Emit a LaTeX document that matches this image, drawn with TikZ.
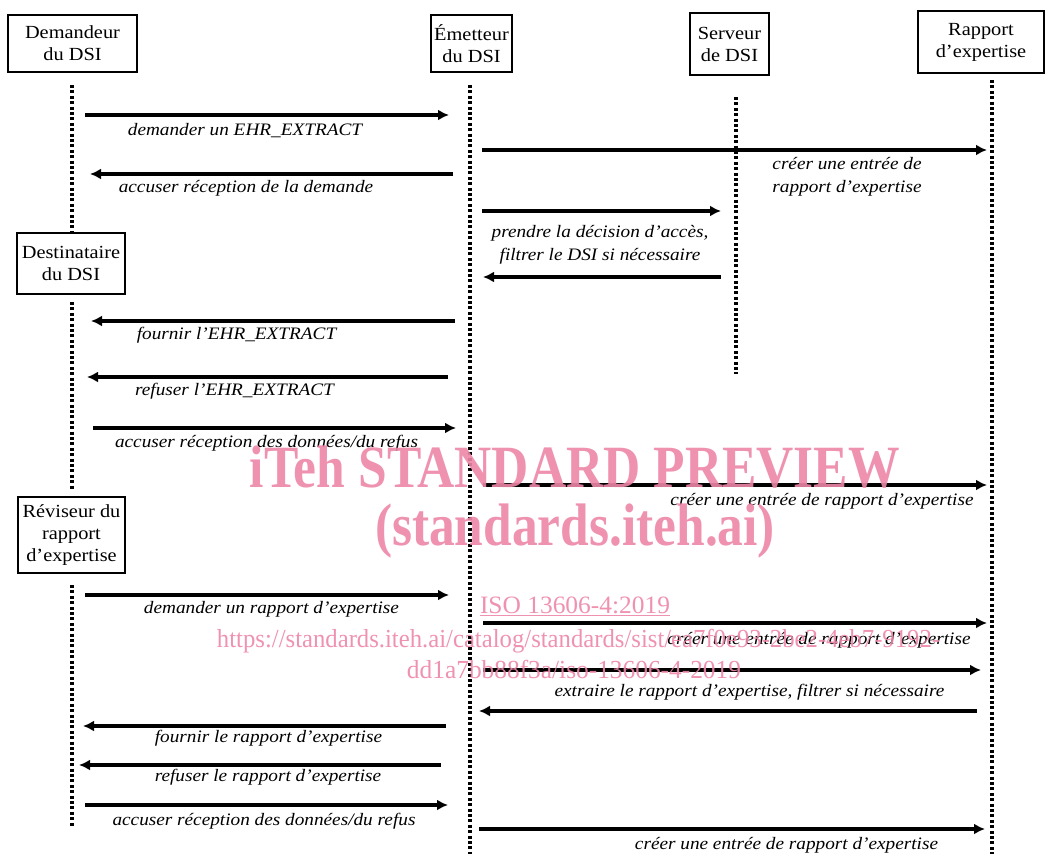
\documentclass[tikz,border=0pt]{standalone}
\usepackage{fontspec}
\setmainfont{Liberation Serif}[FakeStretch=1.1]
\newfontfamily\wmfont{Liberation Serif}
\usetikzlibrary{arrows.meta}
\definecolor{wmpink}{RGB}{238,135,168}
\begin{document}
\begin{tikzpicture}[x=1pt,y=-1pt,
  actor/.style={draw, line width=1.9pt, align=center, font=\fontsize{18.5}{22}\selectfont, inner sep=0pt},
  life/.style={line width=3.4pt, dash pattern=on 3pt off 2.4pt},
  msg/.style={line width=3.2pt, -{Latex[length=11pt,width=11pt]}},
  lbl/.style={font=\fontsize{17.5}{23}\selectfont\itshape, align=center, inner sep=0pt},
  wm/.style={text=wmpink, text opacity=0.9, inner sep=0pt, anchor=base}]
\useasboundingbox (0,0) rectangle (1046,854);
\fill[white] (0,0) rectangle (1046,854);

% actors
\node[actor, minimum width=129pt, minimum height=57pt] (dem) at (72.5,43.5) {Demandeur\\du DSI};
\node[actor, minimum width=81pt, minimum height=57pt] (emt) at (471.5,43.5) {Émetteur\\du DSI};
\node[actor, minimum width=79pt, minimum height=62pt] (srv) at (729.5,44) {Serveur\\de DSI};
\node[actor, minimum width=126pt, minimum height=62pt] (rap) at (981,42) {Rapport\\d’expertise};
\node[actor, minimum width=108pt, minimum height=61pt] (dest) at (71,263.5) {Destinataire\\du DSI};
\node[actor, minimum width=107pt, minimum height=76pt] (rev) at (71.5,535) {Réviseur du\\rapport\\d’expertise};

% lifelines
\coordinate (L1a) at (72,85);  \coordinate (L1b) at (72,231);
\coordinate (L1c) at (72,302); \coordinate (L1d) at (72,489);
\coordinate (L1e) at (72,585); \coordinate (L1f) at (72,826);
\coordinate (L2a) at (470,85); \coordinate (L2b) at (470,854);
\coordinate (L3a) at (736,97); \coordinate (L3b) at (736,374);
\coordinate (L4a) at (992,80); \coordinate (L4b) at (992,854);
\draw[life] (L1a) -- (L1b);
\draw[life] (L1c) -- (L1d);
\draw[life] (L1e) -- (L1f);
\draw[life] (L2a) -- (L2b);
\draw[life] (L3a) -- (L3b);
\draw[life] (L4a) -- (L4b);

% messages
\coordinate (m1s) at (85,115);   \coordinate (m1e) at (449,115);
\coordinate (m2s) at (482,150);  \coordinate (m2e) at (987,150);
\coordinate (m3s) at (453,174);  \coordinate (m3e) at (90,174);
\coordinate (m4s) at (482,211);  \coordinate (m4e) at (721,211);
\coordinate (m5s) at (721,277);  \coordinate (m5e) at (483,277);
\coordinate (m6s) at (455,321);  \coordinate (m6e) at (91,321);
\coordinate (m7s) at (448,377);  \coordinate (m7e) at (87,377);
\coordinate (m8s) at (93,428);   \coordinate (m8e) at (456,428);
\coordinate (m9s) at (483,485);  \coordinate (m9e) at (987,485);
\coordinate (m10s) at (85,595);  \coordinate (m10e) at (449,595);
\coordinate (m11s) at (483,623); \coordinate (m11e) at (987,623);
\coordinate (m12s) at (483,670); \coordinate (m12e) at (981,670);
\coordinate (m13s) at (977,711); \coordinate (m13e) at (479,711);
\coordinate (m14s) at (446,726); \coordinate (m14e) at (83,726);
\coordinate (m15s) at (441,765); \coordinate (m15e) at (79,765);
\coordinate (m16s) at (85,805);  \coordinate (m16e) at (448,805);
\coordinate (m17s) at (479,829); \coordinate (m17e) at (985,829);
\foreach \i in {1,...,17}{\draw[msg] (m\i s) -- (m\i e);}

% labels
\node[lbl] (t1) at (245,131) {demander un EHR\_EXTRACT};
\node[lbl] (t2) at (847,176.5) {créer une entrée de\\rapport d’expertise};
\node[lbl] (t3) at (246,188) {accuser réception de la demande};
\node[lbl] (t4) at (600,244.5) {prendre la décision d’accès,\\filtrer le DSI si nécessaire};
\node[lbl] (t6) at (236.5,335) {fournir l’EHR\_EXTRACT};
\node[lbl] (t7) at (234.5,391) {refuser l’EHR\_EXTRACT};
\node[lbl] (t8) at (266.5,443) {accuser réception des données/du refus};
\node[lbl] (t9) at (822,501) {créer une entrée de rapport d’expertise};
\node[lbl] (t10) at (271.5,609) {demander un rapport d’expertise};
\node[lbl] (t11) at (819,640) {créer une entrée de rapport d’expertise};
\node[lbl] (t12) at (749.5,692) {extraire le rapport d’expertise, filtrer si nécessaire};
\node[lbl] (t14) at (268.5,738) {fournir le rapport d’expertise};
\node[lbl] (t15) at (268,777) {refuser le rapport d’expertise};
\node[lbl] (t16) at (264,821) {accuser réception des données/du refus};
\node[lbl] (t17) at (786.5,845) {créer une entrée de rapport d’expertise};

% watermark
\node[wm] (w1) at (575,487) {\resizebox{650pt}{\height}{\wmfont\fontsize{60}{60}\selectfont\bfseries iTeh STANDARD PREVIEW}};
\node[wm] (w2) at (575,545) {\resizebox{400pt}{\height}{\wmfont\fontsize{60}{60}\selectfont\bfseries (standards.iteh.ai)}};
\node[wm] (w3) at (575,613) {\resizebox{190pt}{\height}{\wmfont\fontsize{25}{25}\selectfont\underline{ISO 13606-4:2019}}};
\node[wm] (w4) at (578.5,647) {\resizebox{723pt}{\height}{\wmfont\fontsize{26}{26}\selectfont https://standards.iteh.ai/catalog/standards/sist/ea7f0e93-2be2-4eb7-9192-}};
\node[wm] (w5) at (574,678) {\resizebox{334pt}{\height}{\wmfont\fontsize{26}{26}\selectfont dd1a7bb88f3a/iso-13606-4-2019}};
\end{tikzpicture}
\end{document}
